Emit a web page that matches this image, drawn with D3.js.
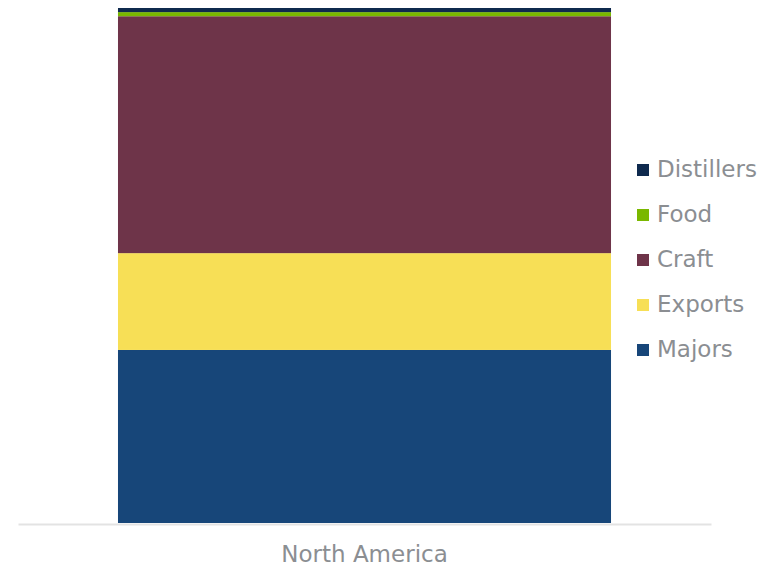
<!DOCTYPE html>
<html>
<head>
<meta charset="utf-8">
<script src="https://cdn.jsdelivr.net/npm/d3@7"></script>
<style>
    body { margin: 0; background: #fff; }
    text { font-family: "DejaVu Sans", Verdana, sans-serif; fill: #8b8e92; }
</style>
</head>
<body>
<svg id="chart" width="775" height="569"></svg>
<script>
// Chart data
const regions = ["North America"];
const seriesNames = ["Majors", "Exports", "Craft", "Food", "Distillers"];
const seriesColors = ["#174679", "#f7df56", "#6e3449", "#7ab800", "#0f2a4e"];
const majors = [33.6];
const exports = [18.8];
const craft = [46.0];
const food = [0.8];
const distillers = [0.8];

const rows = regions.map((r, i) => ({
    region: r,
    Majors: majors[i],
    Exports: exports[i],
    Craft: craft[i],
    Food: food[i],
    Distillers: distillers[i]
}));

const svg = d3.select("#chart");

const x = d3.scaleBand()
            .domain(regions)
            .range([18, 711])
            .paddingInner(0)
            .paddingOuter(0.2028);

const y = d3.scaleLinear()
            .domain([0, 100])
            .range([523, 8]);

const color = d3.scaleOrdinal()
                .domain(seriesNames)
                .range(seriesColors);

const stacked = d3.stack().keys(seriesNames)(rows);

// Draw the stacked bars
svg.append("g")
   .selectAll("g")
   .data(stacked)
   .join("g")
   .attr("fill", d => color(d.key))
   .selectAll("rect")
   .data(d => d)
   .join("rect")
   .attr("x", d => x(d.data.region))
   .attr("width", x.bandwidth())
   .attr("y", d => y(d[1]))
   .attr("height", d => y(d[0]) - y(d[1]));

// Category axis
const axis = svg.append("g")
                .attr("transform", `translate(0,${y(0) + 1})`)
                .call(d3.axisBottom(x).tickSize(0).tickSizeOuter(0).tickPadding(22));

axis.select(".domain")
    .attr("stroke", "#e3e3e3")
    .attr("stroke-width", 2);

axis.selectAll("text")
    .attr("fill", "#8b8e92")
    .style("font-size", "23px")
    .style("font-family", "'DejaVu Sans', Verdana, sans-serif");

// Legend, top entry is last series
const legend = svg.append("g")
                  .selectAll("g")
                  .data(seriesNames.slice().reverse())
                  .join("g")
                  .attr("transform", (d, i) => `translate(637,${164 + i * 45})`);

legend.append("rect")
      .attr("width", 12)
      .attr("height", 12)
      .attr("fill", d => color(d));

legend.append("text")
      .attr("x", 20)
      .attr("y", 13)
      .style("font-size", "23px")
      .text(d => d);
</script>
</body>
</html>
